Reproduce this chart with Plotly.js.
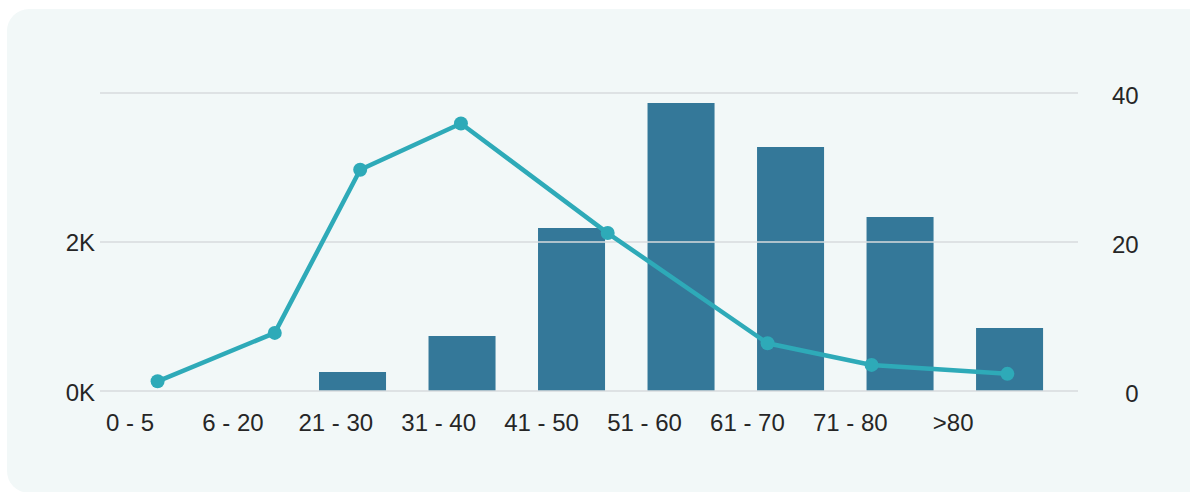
<!DOCTYPE html>
<html>
<head>
<meta charset="utf-8">
<script src="https://cdn.plot.ly/plotly-3.0.1.min.js"></script>
<style>
  html, body { margin: 0; padding: 0; background: #ffffff; width: 1190px; height: 492px; overflow: hidden; }
  #card { position: absolute; left: 7px; top: 9px; width: 1205px; height: 484px; background: #f2f8f8; border-radius: 22px; }
  #chart { position: absolute; left: 0; top: 0; width: 1190px; height: 492px; }
</style>
</head>
<body>
<div id="card"></div>
<div id="chart"></div>
<script>
// ---- data ----
const ageGroups = ["0 - 5", "6 - 20", "21 - 30", "31 - 40", "41 - 50", "51 - 60", "61 - 70", "71 - 80", ">80"];
const barCounts = [0, 0, 253, 733, 2173, 3840, 3253, 2320, 840];
// line series: position along the bar scale and value on the right axis
const linePos = [0.22, 1.29, 2.07, 2.99, 4.33, 5.79, 6.74, 7.98];
const lineValues = [1.3, 7.8, 29.7, 35.9, 21.2, 6.4, 3.5, 2.3];
const leftTickVals = [0, 2000];
const leftTickText = ["0K", "2K"];
const rightTickVals = [0, 20, 40];
const rightTickText = ["\u20070", "20", "40"];

// ---- scales ----
const labelRange = [-0.2915, 9.213];
const barRange = [-0.306, 8.625];
const leftRange = [-40, 4013];
const rightRange = [-0.403, 40.403];

const barIdx = ageGroups.map((_, i) => i);

const gridX = [], gridY = [];
rightTickVals.forEach(v => { gridX.push(barRange[0], barRange[1], null); gridY.push(v, v, null); });

const textColor = "#262626";
const fontFam = "Liberation Sans, Arial, Helvetica, sans-serif";

const traces = [
  {
    // label axis carrier (no visible marks)
    type: "scatter", mode: "markers", x: barIdx, y: barIdx.map(() => null), xaxis: "x", yaxis: "y",
    hoverinfo: "skip", showlegend: false
  },
  {
    type: "bar", x: barIdx, y: barCounts, xaxis: "x2", yaxis: "y",
    width: 0.612, marker: { color: "#347899" }, hoverinfo: "y", showlegend: false
  },
  {
    type: "scatter", mode: "lines", x: gridX, y: gridY, xaxis: "x2", yaxis: "y2",
    line: { color: "#d7dbde", width: 1.5 }, hoverinfo: "skip", showlegend: false
  },
  {
    type: "scatter", mode: "lines+markers", x: linePos, y: lineValues, xaxis: "x2", yaxis: "y2",
    line: { color: "#2eaab8", width: 4.5 }, marker: { color: "#2eaab8", size: 14 },
    hoverinfo: "y", showlegend: false, cliponaxis: false
  }
];

const layout = {
  width: 1190, height: 492,
  margin: { l: 100, r: 112, t: 90, b: 98, pad: 0 },
  paper_bgcolor: "rgba(0,0,0,0)", plot_bgcolor: "rgba(0,0,0,0)",
  font: { family: fontFam, size: 24, color: textColor },
  showlegend: false,
  xaxis: {
    range: labelRange, tickvals: barIdx, ticktext: ageGroups,
    showgrid: false, zeroline: false, showline: false, ticks: "",
    tickfont: { size: 24, color: textColor }, ticklabelstandoff: 12, fixedrange: true
  },
  xaxis2: { overlaying: "x", range: barRange, visible: false, fixedrange: true },
  yaxis: {
    range: leftRange, tickvals: leftTickVals, ticktext: leftTickText,
    showgrid: false, zeroline: false, showline: false, ticks: "",
    tickfont: { size: 24, color: textColor }, ticklabelstandoff: 4, ticklabelshift: 2, fixedrange: true
  },
  yaxis2: {
    overlaying: "y", side: "right", range: rightRange,
    tickvals: rightTickVals, ticktext: rightTickText,
    showgrid: false, zeroline: false, showline: false, ticks: "",
    tickfont: { size: 24, color: textColor }, ticklabelstandoff: 33, ticklabelshift: 3, fixedrange: true
  }
};

Plotly.newPlot("chart", traces, layout, { displayModeBar: false, staticPlot: true });
</script>
</body>
</html>
